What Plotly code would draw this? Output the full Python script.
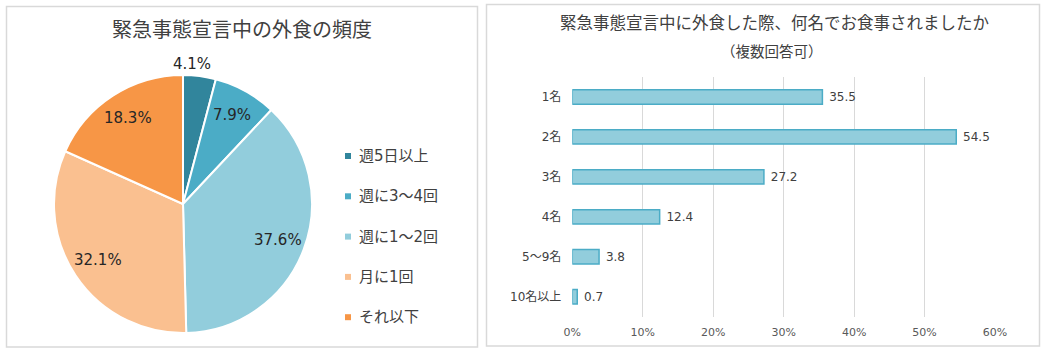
import math
import plotly.graph_objects as go

W, H = 1046, 354

# ---------- data ----------
pie_title = "緊急事態宣言中の外食の頻度"
pie_labels = ["週5日以上", "週に3～4回", "週に1～2回", "月に1回", "それ以下"]
pie_values = [4.1, 7.9, 37.6, 32.1, 18.3]
pie_colors = ["#31859C", "#4BACC6", "#92CDDC", "#FAC090", "#F79646"]

bar_title = "緊急事態宣言中に外食した際、何名でお食事されましたか"
bar_subtitle = "（複数回答可）"
bar_categories = ["1名", "2名", "3名", "4名", "5～9名", "10名以上"]
bar_values = [35.5, 54.5, 27.2, 12.4, 3.8, 0.7]
x_ticks = [0, 10, 20, 30, 40, 50, 60]
x_tick_labels = ["0%", "10%", "20%", "30%", "40%", "50%", "60%"]

FONT = "DejaVu Sans, Noto Sans CJK JP, sans-serif"
CJK = "Noto Sans CJK JP, sans-serif"


def px(x):
    return x / W


def py(y):
    return 1 - y / H


fig = go.Figure()

# ---------- pie ----------
pie_l, pie_r, pie_t, pie_b = 54, 312, 75, 333
fig.add_trace(go.Pie(
    labels=pie_labels, values=pie_values, sort=False, direction="clockwise",
    rotation=0, marker=dict(colors=pie_colors, line=dict(color="white", width=2)),
    textinfo="none", hoverinfo="label+percent", showlegend=False,
    automargin=False,
    domain=dict(x=[px(pie_l), px(pie_r)], y=[py(pie_b), py(pie_t)]),
))

# ---------- bar ----------
fig.add_trace(go.Bar(
    y=bar_categories, x=bar_values, orientation="h", width=0.36,
    marker=dict(color="#92CDDC", line=dict(color="#4BACC6", width=1.5)),
    text=["\u00a0" + f"{v:.1f}" for v in bar_values], textposition="outside",
    textfont=dict(size=12, color="#404040", family=FONT), cliponaxis=False,
    showlegend=False, xaxis="x", yaxis="y",
))

annotations = []
shapes = []

# pie labels computed from slice angles
cx, cy = (pie_l + pie_r) / 2, (pie_t + pie_b) / 2
R = (pie_b - pie_t) / 2
total = sum(pie_values)
cum = 0.0
for i, v in enumerate(pie_values):
    start = cum / total * 2 * math.pi
    mid = (cum + v / 2) / total * 2 * math.pi
    cum += v
    outside = v / total < 0.05
    if outside:
        ang = (start + mid) / 2
        r = R * 1.09
    else:
        ang = mid
        r = R * 0.79
    lx = cx + r * math.sin(ang)
    ly = cy - r * math.cos(ang)
    annotations.append(dict(
        x=px(lx), y=py(ly), xref="paper", yref="paper", showarrow=False,
        text=f"{v:.1f}%", font=dict(size=15, color="#262626", family=FONT),
        xanchor="center", yanchor="middle",
    ))

# custom legend
for i, (lab, col) in enumerate(zip(pie_labels, pie_colors)):
    yc = 156 + 40.3 * i
    shapes.append(dict(type="rect", xref="paper", yref="paper",
                       x0=px(345), x1=px(351), y0=py(yc + 3), y1=py(yc - 3),
                       fillcolor=col, line=dict(width=0)))
    annotations.append(dict(
        x=px(357), y=py(yc), xref="paper", yref="paper", showarrow=False,
        text=lab, font=dict(size=15, color="#404040", family=FONT),
        xanchor="left", yanchor="middle",
    ))

# titles
annotations.append(dict(x=px(242), y=py(28), xref="paper", yref="paper",
                        showarrow=False, text=pie_title,
                        font=dict(size=20, color="#404040", family=CJK),
                        xanchor="center", yanchor="middle"))
annotations.append(dict(x=px(774), y=py(22), xref="paper", yref="paper",
                        showarrow=False, text=bar_title,
                        font=dict(size=16.5, color="#404040", family=CJK),
                        xanchor="center", yanchor="middle"))
annotations.append(dict(x=px(772), y=py(50), xref="paper", yref="paper",
                        showarrow=False, text=bar_subtitle,
                        font=dict(size=14.5, color="#404040", family=CJK),
                        xanchor="center", yanchor="middle"))

# panel borders
shapes.append(dict(type="rect", xref="paper", yref="paper",
                   x0=px(6.5), x1=px(477.5), y0=py(347), y1=py(6.5),
                   line=dict(color="#D9D9D9", width=1.5), fillcolor="rgba(0,0,0,0)"))
shapes.append(dict(type="rect", xref="paper", yref="paper",
                   x0=px(486.5), x1=px(1039.5), y0=py(346), y1=py(4.5),
                   line=dict(color="#D9D9D9", width=1.5), fillcolor="rgba(0,0,0,0)"))

fig.update_layout(
    width=W, height=H, margin=dict(l=0, r=0, t=0, b=0, autoexpand=False),
    paper_bgcolor="white", plot_bgcolor="white",
    font=dict(family=FONT, color="#404040"),
    xaxis=dict(domain=[px(572.3), px(995)], range=[0, 60], tickmode="array",
               tickvals=x_ticks, ticktext=x_tick_labels, automargin=False,
               showgrid=True, gridcolor="#D9D9D9", gridwidth=1,
               zeroline=False, showline=False, ticks="", ticklabelstandoff=7,
               tickfont=dict(size=11, color="#595959", family=FONT)),
    yaxis=dict(domain=[py(316.7), py(77)], autorange="reversed", type="category",
               showgrid=False, zeroline=False, showline=False, ticks="",
               ticklabelstandoff=10, automargin=False,
               tickfont=dict(size=12, color="#404040", family=FONT)),
    annotations=annotations, shapes=shapes,
)

fig.write_html("out.html")
